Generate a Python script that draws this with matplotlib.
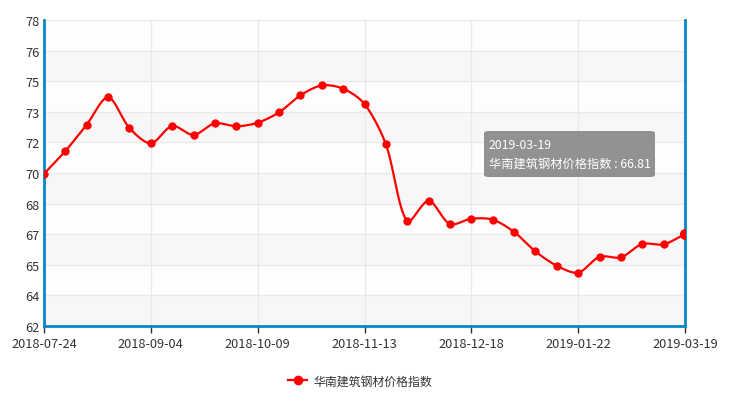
import numpy as np
import matplotlib
matplotlib.use("Agg")
import matplotlib.pyplot as plt
from matplotlib.patches import FancyBboxPatch
from matplotlib.lines import Line2D

plt.rcParams['font.family'] = ['Noto Sans CJK SC', 'DejaVu Sans']

series_name = "华南建筑钢材价格指数"
dates = ["2018-07-24", "2018-07-31", "2018-08-07", "2018-08-14", "2018-08-28",
         "2018-09-04", "2018-09-11", "2018-09-18", "2018-09-25", "2018-10-02",
         "2018-10-09", "2018-10-16", "2018-10-23", "2018-10-30", "2018-11-06",
         "2018-11-13", "2018-11-20", "2018-11-27", "2018-12-04", "2018-12-11",
         "2018-12-18", "2018-12-25", "2019-01-01", "2019-01-08", "2019-01-15",
         "2019-01-22", "2019-01-29", "2019-02-19", "2019-02-26", "2019-03-12",
         "2019-03-19"]
values = [69.96, 71.15, 72.53, 73.96, 72.35,
          71.55, 72.46, 71.99, 72.60, 72.44,
          72.63, 73.17, 74.06, 74.58, 74.41,
          73.61, 71.50, 67.47, 68.55, 67.33,
          67.61, 67.56, 66.92, 65.90, 65.15,
          64.79, 65.62, 65.59, 66.29, 66.27,
          66.81]
y_min, y_max, y_steps = 62, 78, 10

W, H = 735, 402
fig = plt.figure(figsize=(W / 100, H / 100), dpi=100)
L, R, T, B = 44, 685, 21, 327
ax = fig.add_axes([L / W, 1 - B / H, (R - L) / W, (B - T) / H])

n = len(values)
x = np.arange(n, dtype=float)
y = np.array(values, dtype=float)

# smooth curve (ECharts-like bezier), computed in pixel-proportional space
sx = (R - L) / (n - 1)
sy = (B - T) / (y_max - y_min)
P = np.column_stack([x * sx, y * sy])
smooth = 0.3
curve = []
cps = []
for i in range(n):
    prev = P[i - 1] if i > 0 else P[i]
    nxt = P[i + 1] if i < n - 1 else P[i]
    v = (nxt - prev) * smooth
    d0 = np.linalg.norm(P[i] - prev)
    d1 = np.linalg.norm(nxt - P[i])
    s = d0 + d1
    if s == 0:
        cps.append((P[i], P[i]))
        continue
    cps.append((P[i] - v * d0 / s, P[i] + v * d1 / s))
t = np.linspace(0, 1, 30)[:, None]
for i in range(n - 1):
    p0 = P[i]; p3 = P[i + 1]
    p1 = cps[i][1]; p2 = cps[i + 1][0]
    seg = ((1 - t) ** 3) * p0 + 3 * ((1 - t) ** 2) * t * p1 + 3 * (1 - t) * t ** 2 * p2 + t ** 3 * p3
    curve.append(seg if i == 0 else seg[1:])
curve = np.vstack(curve)
cx = curve[:, 0] / sx
cy = curve[:, 1] / sy

ax.set_xlim(0, n - 1)
ax.set_ylim(y_min, y_max)

# alternating bands
yt = np.linspace(y_min, y_max, y_steps + 1)
for k in range(y_steps):
    ax.axhspan(yt[k], yt[k + 1], color='#f7f7f7' if k % 2 == 0 else '#fdfdfd', zorder=0, lw=0)
for v_ in yt:
    ax.axhline(v_, color='#e9e9e9', lw=1, zorder=1)
xt = np.arange(0, n, 5)
for xv in xt:
    ax.axvline(xv, color='#e9e9e9', lw=1, zorder=1)

ax.plot(cx, cy, color='#ff0000', lw=1.6, zorder=3, solid_capstyle='round')
ax.plot(x[:-1], y[:-1], 'o', color='#ff0000', ms=5, zorder=4)
ax.plot(x[-1:], y[-1:], 'o', color='#ff0000', ms=7, zorder=4)

ax.set_yticks(yt)
ax.set_yticklabels([f"{v_:.0f}" for v_ in yt])
ax.set_xticks(xt)
ax.set_xticklabels([dates[i] for i in xt])
ax.tick_params(axis='y', length=0, pad=3, labelsize=9.2, labelcolor='#333333')
ax.tick_params(axis='x', length=5, width=1, color='#333333', pad=3, labelsize=9.2, labelcolor='#333333')

axis_blue = '#0a86c8'
for side in ['left', 'bottom', 'right']:
    ax.spines[side].set_color(axis_blue)
    ax.spines[side].set_linewidth(2)
ax.spines['top'].set_visible(False)

# tooltip
bx0, by0, bx1, by1 = 484, 132, 655, 178
box = FancyBboxPatch((bx0 / W, 1 - by1 / H), (bx1 - bx0) / W, (by1 - by0) / H,
                     boxstyle="round,pad=0,rounding_size=0.006", transform=fig.transFigure,
                     facecolor='#8c8c8c', edgecolor='none', alpha=0.95, zorder=10)
fig.patches.append(box)
fig.text(489 / W, 1 - 146 / H, dates[-1], color='white', fontsize=8.8, weight='medium',
         va='center', ha='left', zorder=11)
fig.text(489 / W, 1 - 164 / H, f"{series_name} : {values[-1]}", color='white', fontsize=8.8,
         weight='medium', va='center', ha='left', zorder=11)

# legend
handle = Line2D([], [], color='#ff0000', lw=1.6, marker='o', ms=6)
fig.legend([handle], [series_name], loc='center', bbox_to_anchor=(360 / W, 1 - 382 / H),
           frameon=False, fontsize=8.6, handlelength=1.6, handletextpad=0.5, labelcolor='#333333')

fig.savefig("out.png", dpi=100)
